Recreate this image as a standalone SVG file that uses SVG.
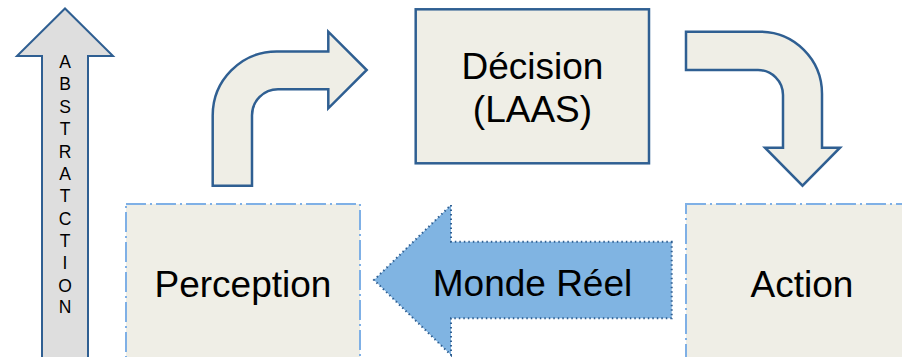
<svg xmlns="http://www.w3.org/2000/svg" width="902" height="357" viewBox="0 0 902 357">
<style>
.lbl{font-family:"Liberation Sans",Arial,sans-serif;font-size:37px;fill:#000;text-anchor:middle}
.abs{font-family:"Liberation Sans",Arial,sans-serif;font-size:17.5px;fill:#000;text-anchor:middle}
.bent{fill:#efeee6;stroke:#2f5f92;stroke-width:2.5;stroke-linejoin:miter}
.dashbox{fill:#efeee6;stroke:#7fb0e6;stroke-width:2;stroke-dasharray:20 4 2 4}
</style>
<rect width="902" height="357" fill="#ffffff"/>
<g id="abstraction">
<path d="M42,360 L42,56 L17,56 L65,8.5 L113,56 L88,56 L88,360 Z" fill="#dedede" stroke="#2f5f92" stroke-width="2"/>
<text class="abs" x="65" y="68">A</text>
<text class="abs" x="65" y="90">B</text>
<text class="abs" x="65" y="113">S</text>
<text class="abs" x="65" y="135">T</text>
<text class="abs" x="65" y="158">R</text>
<text class="abs" x="65" y="180">A</text>
<text class="abs" x="65" y="202">T</text>
<text class="abs" x="65" y="225">C</text>
<text class="abs" x="65" y="247">T</text>
<text class="abs" x="65" y="269">I</text>
<text class="abs" x="65" y="292">O</text>
<text class="abs" x="65" y="313">N</text>
</g>
<g id="decision">
<rect x="415.7" y="9.3" width="233.3" height="154" fill="#efeee6" stroke="#2f5f92" stroke-width="2.5"/>
<text class="lbl" x="532.5" y="78.5">Décision</text>
<text class="lbl" x="532.5" y="122">(LAAS)</text>
</g>
<g id="perception">
<rect x="126" y="204" width="234" height="170" class="dashbox"/>
<text class="lbl" x="243" y="296.7">Perception</text>
</g>
<g id="action">
<rect x="686" y="204" width="240" height="170" class="dashbox"/>
<text class="lbl" x="802" y="296.7">Action</text>
</g>
<g id="connectors">
<path class="bent" d="M212.7,185.7 L212.7,116 A64,64 0 0 1 276.7,51.5 L328.3,51.5 L328.3,31.7 L366.7,70 L328.3,108.3 L328.3,89.3 L278,89.3 A26,26 0 0 0 252,115.3 L252,185.7 Z"/>
<path class="bent" d="M686,31.7 L760,31.7 A62,62 0 0 1 822,93.7 L822,147.7 L840,147.7 L802.5,185.7 L765,147.7 L783,147.7 L783,95 A25,25 0 0 0 758,70 L686,70 Z"/>
<g id="monde-reel">
<path d="M671.7,241.7 L671.7,318.3 L451,318.3 L451,355 L374,280 L451,205 L451,241.7 Z" fill="#80b4e2" stroke="#2f5f92" stroke-width="2" stroke-dasharray="1.5 3"/>
<text class="lbl" x="532.5" y="296">Monde Réel</text>
</g>
</g>
</svg>
